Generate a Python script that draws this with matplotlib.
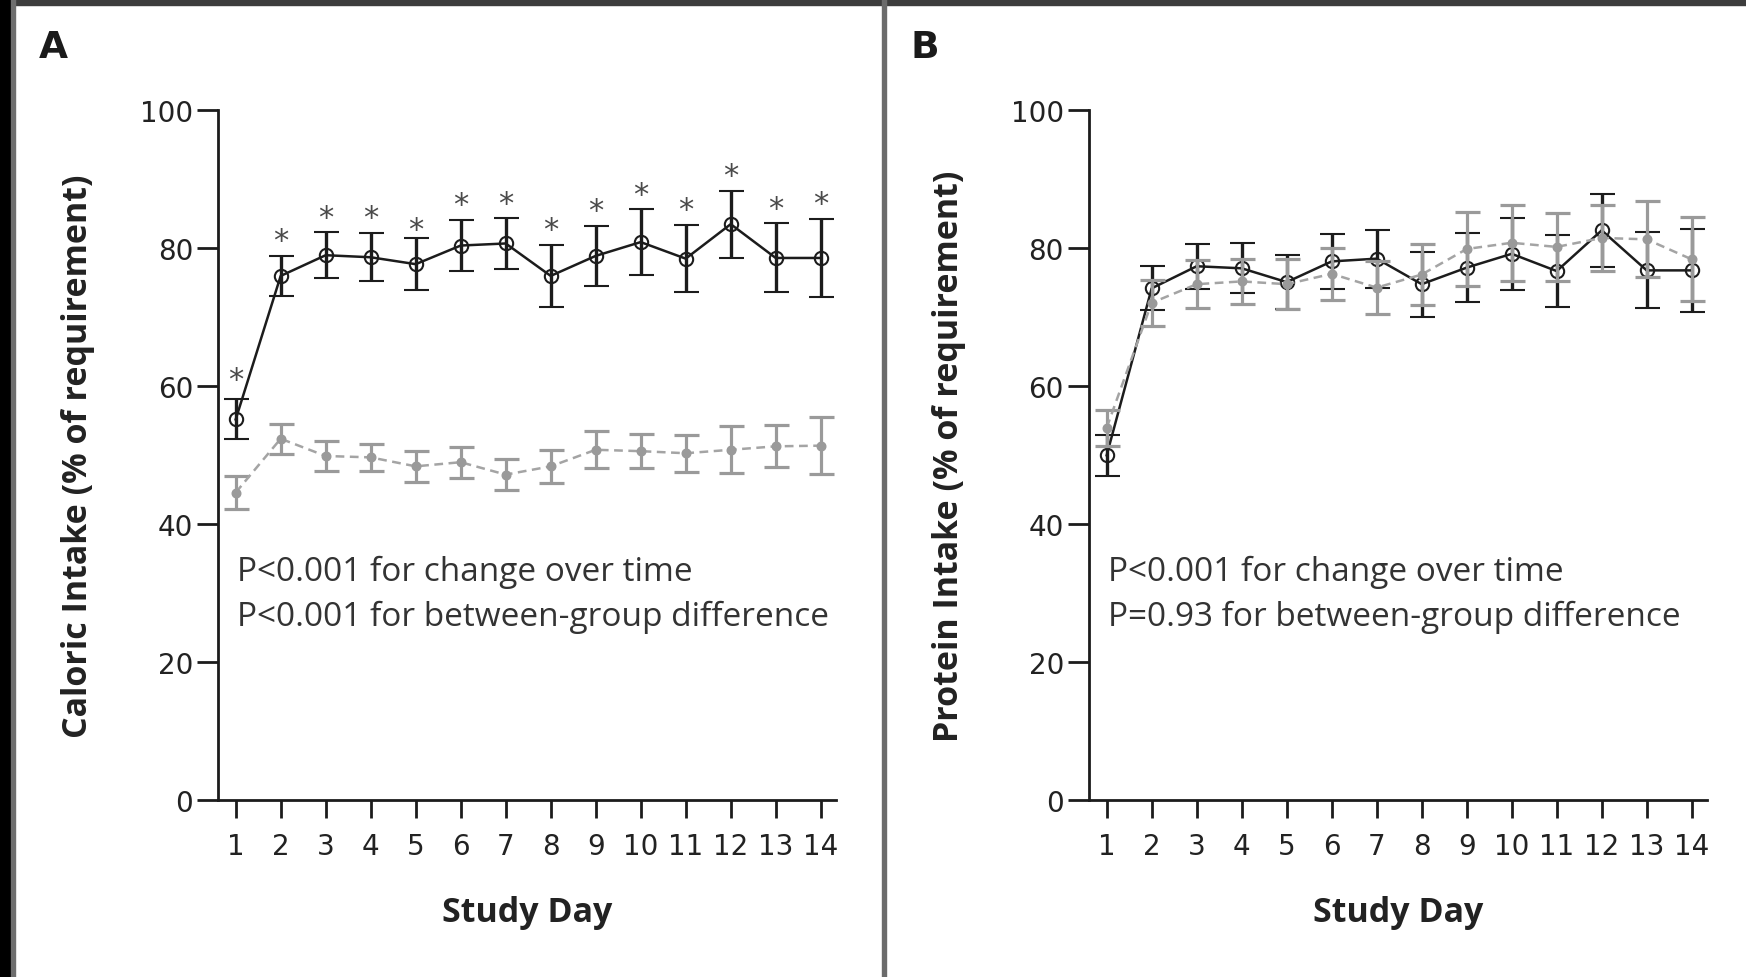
import matplotlib
matplotlib.use("Agg")
import matplotlib.pyplot as plt
from matplotlib.patches import Rectangle
from matplotlib import font_manager

# ---- data -------------------------------------------------------------
days = list(range(1, 15))
day_labels = [str(d) for d in days]

# Panel A: caloric intake (% of requirement)
cal_black = [55.2, 76.0, 79.0, 78.7, 77.7, 80.4, 80.7, 76.0, 78.9, 80.9, 78.5, 83.5, 78.6, 78.6]
cal_black_err = [2.9, 2.85, 3.3, 3.5, 3.75, 3.7, 3.65, 4.5, 4.4, 4.75, 4.9, 4.85, 5.0, 5.65]
cal_gray = [44.6, 52.4, 49.9, 49.7, 48.4, 49.0, 47.2, 48.4, 50.8, 50.6, 50.3, 50.8, 51.3, 51.4]
cal_gray_err = [2.4, 2.2, 2.15, 2.0, 2.2, 2.25, 2.25, 2.4, 2.65, 2.5, 2.7, 3.4, 3.05, 4.1]
cal_significant = [True] * 14

# Panel B: protein intake (% of requirement)
pro_black = [50.0, 74.2, 77.4, 77.1, 75.1, 78.1, 78.5, 74.8, 77.2, 79.2, 76.7, 82.6, 76.8, 76.8]
pro_black_err = [3.0, 3.2, 3.25, 3.6, 3.9, 3.95, 4.2, 4.7, 5.0, 5.25, 5.2, 5.3, 5.5, 6.0]
pro_gray = [54.0, 72.1, 74.8, 75.2, 74.8, 76.3, 74.3, 76.2, 79.9, 80.8, 80.2, 81.5, 81.3, 78.4]
pro_gray_err = [2.6, 3.3, 3.45, 3.3, 3.6, 3.8, 3.85, 4.45, 5.35, 5.5, 4.95, 4.8, 5.5, 6.1]

y_ticks = [0, 20, 40, 60, 80, 100]

panel_a_stats = ["P<0.001 for change over time",
                 "P<0.001 for between-group difference"]
panel_b_stats = ["P<0.001 for change over time",
                 "P=0.93 for between-group difference"]

# ---- fonts ------------------------------------------------------------
def available(name):
    try:
        font_manager.findfont(font_manager.FontProperties(family=name),
                              fallback_to_default=False)
        return True
    except Exception:
        return False

TEXT_FONT = "Open Sans" if available("Open Sans") else "DejaVu Sans"
TICK_FONT = "DejaVu Sans"
LETTER_FONT = "Liberation Sans Narrow" if available("Liberation Sans Narrow") else "DejaVu Sans"

BLACK = "#1c1c1c"
GRAY = "#9a9a9a"
GRAY_LINE = "#a4a4a4"

W, H = 1746, 978
fig = plt.figure(figsize=(W / 100, H / 100), dpi=100)
fig.patch.set_facecolor("white")


def px_axes(left, top, width, height):
    return fig.add_axes([left / W, 1 - (top + height) / H, width / W, height / H])


def draw_panel(ax, black, black_err, gray, gray_err, ylabel, stats, stars=None):
    # open circles, solid line
    ax.errorbar(days, black, yerr=black_err, color=BLACK, lw=1.8,
                elinewidth=2.4, capsize=9, capthick=2.4,
                marker="o", ms=9.6, mfc="none", mec=BLACK, mew=1.5, zorder=3)
    # filled circles, dashed line
    ax.errorbar(days, gray, yerr=gray_err, color=GRAY, lw=1.8,
                elinewidth=2.3, capsize=9, capthick=2.3,
                marker="o", ms=6.2, mfc=GRAY, mec=GRAY, zorder=4,
                ls="none")
    ax.plot(days, gray, color=GRAY_LINE, lw=1.8, ls=(0, (3.5, 2.2)), zorder=4)

    if stars is not None:
        for d, m, e, s in zip(days, black, black_err, stars):
            if s:
                off = {1: 14, 5: 6}.get(d, 11)
                ax.annotate("*", xy=(d, m + e), xytext=(0, off),
                            textcoords="offset points", ha="center", va="center",
                            fontsize=22, color="#4a4a4a", family=TICK_FONT)

    ax.set_xlim(0.607, 14.34)
    ax.set_ylim(0, 100)
    ax.set_xticks(days)
    ax.set_xticklabels(day_labels)
    ax.set_yticks(y_ticks)
    for side in ("top", "right"):
        ax.spines[side].set_visible(False)
    for side in ("left", "bottom"):
        ax.spines[side].set_linewidth(2.0)
        ax.spines[side].set_color(BLACK)
    ax.tick_params(axis="y", length=15, width=2.0, pad=3, color=BLACK,
                   labelsize=20, labelcolor="#222222")
    ax.tick_params(axis="x", length=13, width=2.0, pad=10, color=BLACK,
                   labelsize=20, labelcolor="#222222")
    for lab in ax.get_xticklabels() + ax.get_yticklabels():
        lab.set_family(TICK_FONT)

    ax.set_ylabel(ylabel, fontsize=24.5, fontweight="bold", family=TEXT_FONT,
                  color="#222222", va="center")
    ax.yaxis.set_label_coords(-0.2265, 0.5)
    ax.set_xlabel("Study Day", fontsize=24.5, fontweight="bold", family=TEXT_FONT,
                  color="#222222", va="center")
    ax.xaxis.set_label_coords(0.5, -0.162)

    ax.text(0.031, 0.319, stats[0], transform=ax.transAxes, fontsize=24,
            family=TEXT_FONT, color="#333333", va="baseline", ha="left")
    ax.text(0.031, 0.254, stats[1], transform=ax.transAxes, fontsize=24,
            family=TEXT_FONT, color="#333333", va="baseline", ha="left")


ax_a = px_axes(218, 111.3, 618, 690)
draw_panel(ax_a, cal_black, cal_black_err, cal_gray, cal_gray_err,
           "Caloric Intake (% of requirement)", panel_a_stats, stars=cal_significant)

ax_b = px_axes(1089, 111.3, 618, 690)
draw_panel(ax_b, pro_black, pro_black_err, pro_gray, pro_gray_err,
           "Protein Intake (% of requirement)", panel_b_stats)

# panel letters
fig.text(53 / W, 1 - 48 / H, "A", fontsize=27, fontweight="bold",
         family=LETTER_FONT, color="#1a1a1a", ha="center", va="center")
fig.text(925 / W, 1 - 48 / H, "B", fontsize=27, fontweight="bold",
         family=LETTER_FONT, color="#1a1a1a", ha="center", va="center")

# figure frame: top bar, left band, divider between panels
fig.patches.append(Rectangle((0, 1 - 6 / H), 1, 6 / H, transform=fig.transFigure,
                             color="#3d3d3d", zorder=10))
fig.patches.append(Rectangle((0, 0), 11 / W, 1, transform=fig.transFigure,
                             color="#000000", zorder=10))
fig.patches.append(Rectangle((11 / W, 0), 4 / W, 1, transform=fig.transFigure,
                             color="#6e6e6e", zorder=10))
fig.patches.append(Rectangle((882 / W, 0), 4 / W, 1, transform=fig.transFigure,
                             color="#6b6b6b", zorder=10))

fig.savefig("out.png", dpi=100, facecolor="white")
